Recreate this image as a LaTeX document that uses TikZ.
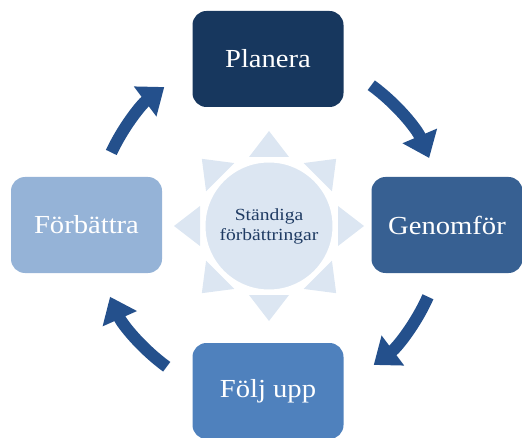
\documentclass[tikz,border=0pt]{standalone}
\usepackage{fontspec}
\setmainfont[FakeStretch=1.1]{Liberation Serif}
\newfontfamily\centerfont[FakeStretch=1.15]{Liberation Serif}
\usetikzlibrary{arrows.meta}
\definecolor{cplan}{HTML}{17375E}
\definecolor{cgen}{HTML}{376092}
\definecolor{cfolj}{HTML}{4F81BD}
\definecolor{cforb}{HTML}{95B3D7}
\definecolor{csun}{HTML}{DCE6F2}
\definecolor{ctext}{HTML}{1F3B63}
\definecolor{carrow}{HTML}{24508C}
\begin{document}
\begin{tikzpicture}[x=1pt,y=1pt,
  box/.style={rounded corners=14pt, minimum width=151pt, minimum height=96pt,
    inner sep=0pt, text=white, font=\fontsize{26}{30}\selectfont},
  cyc/.style={line width=12pt, draw=carrow, line cap=butt,
    -{Triangle[width=36pt,length=24pt]}},
  ray/.style={fill=csun}]
\useasboundingbox (0,0) rectangle (522,437);
\clip (0,0) rectangle (522,437);
% boxes
\node[box, fill=cplan] (plan) at (268,378) {Planera};
\node[box, fill=cgen]  (gen)  at (447,212) {Genomför};
\node[box, fill=cfolj] (folj) at (268,46)  {Följ upp};
\node[box, fill=cforb] (forb) at (86.5,212) {Förbättra};
% sun
\begin{scope}[shift={(269,211)}]
  \foreach \a in {0,45,...,315}
    \fill[ray, rotate=\a] (95,0) -- (69,20) -- (69,-20) -- cycle;
\end{scope}
\node[circle, fill=csun, draw=white, line width=3pt, minimum size=130pt,
  inner sep=0pt, align=center, text=ctext,
  font=\centerfont\fontsize{17}{20}\selectfont] (sun) at (269,211)
  {Ständiga\\förbättringar};
% arrows
\coordinate (c) at (269,211);
\draw[cyc] ([shift={(54:174)}]c) arc[start angle=54, end angle=23, radius=174];
\draw[cyc] ([shift={(-24:174)}]c) arc[start angle=-24, end angle=-53, radius=174];
\draw[cyc] ([shift={(234:174)}]c) arc[start angle=234, end angle=204, radius=174];
\draw[cyc] ([shift={(155:174)}]c) arc[start angle=155, end angle=127, radius=174];
\end{tikzpicture}
\end{document}
